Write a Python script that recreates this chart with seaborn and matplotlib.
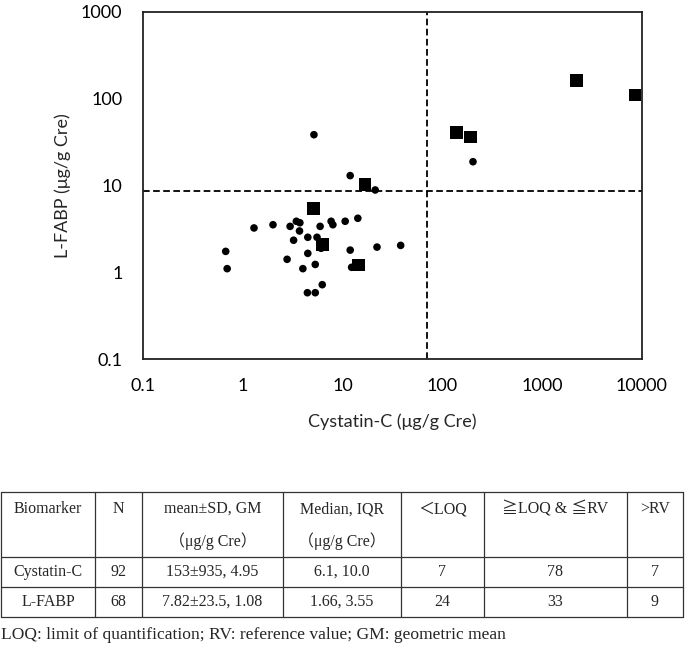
import numpy as np
import pandas as pd
import matplotlib
matplotlib.use("Agg")
import matplotlib.pyplot as plt
import seaborn as sns

# ---------------- data ----------------
circle_cystatin = [5.15, 203, 11.9, 21.2, 1.29, 2.0, 2.97, 3.43, 3.72, 3.69, 5.94, 7.66,
                   7.98, 10.6, 14.2, 3.22, 4.47, 5.53, 6.08, 0.671, 0.694, 2.77, 4.47,
                   3.99, 5.31, 11.9, 22.1, 38.2, 12.3, 6.24, 4.43, 5.31]
circle_lfabp = [38.5, 18.8, 13.0, 8.88, 3.24, 3.53, 3.38, 3.87, 3.72, 2.99, 3.38, 3.87,
                3.53, 3.87, 4.19, 2.34, 2.53, 2.53, 1.89, 1.74, 1.10, 1.41, 1.65,
                1.10, 1.23, 1.80, 1.95, 2.04, 1.14, 0.719, 0.581, 0.581]
square_cystatin = [2208, 8530, 139, 192, 16.8, 5.07, 6.28, 14.5]
square_lfabp = [163, 111, 41, 36.2, 10.3, 5.46, 2.08, 1.21]

cystatin_cutoff = 70.6
lfabp_cutoff = 8.7

x_ticks = [0.1, 1, 10, 100, 1000, 10000]
x_tick_labels = ["0.1", "1", "10", "100", "1000", "10000"]
y_ticks = [0.1, 1, 10, 100, 1000]
y_tick_labels = ["0.1", "1", "10", "100", "1000"]
x_label = "Cystatin-C (μg/g Cre)"
y_label = "L-FABP (μg/g Cre)"

table_header_1 = ["Biomarker", "N", "mean±SD, GM", "Median, IQR", "＜LOQ", "≧LOQ & ≦RV", ">RV"]
table_header_2 = ["", "", "（μg/g Cre）", "（μg/g Cre）", "", "", ""]
table_row_cystatin = ["Cystatin-C", "92", "153±935, 4.95", "6.1, 10.0", "7", "78", "7"]
table_row_lfabp = ["L-FABP", "68", "7.82±23.5, 1.08", "1.66, 3.55", "24", "33", "9"]
footnote = "LOQ: limit of quantification; RV: reference value; GM: geometric mean"

# ---------------- style ----------------
sns.set_style("white")
plt.rcParams["font.family"] = ["Lato", "DejaVu Sans"]

W, H = 685, 647
fig = plt.figure(figsize=(W / 100, H / 100), dpi=100)

left, right, top, bottom = 143.3, 641.7, 12, 359
ax = fig.add_axes([left / W, 1 - bottom / H, (right - left) / W, (bottom - top) / H])

df_c = pd.DataFrame({"cys": circle_cystatin, "lfabp": circle_lfabp})
df_s = pd.DataFrame({"cys": square_cystatin, "lfabp": square_lfabp})

sns.scatterplot(data=df_c, x="cys", y="lfabp", marker="o", s=30, color="black",
                edgecolor="none", legend=False, ax=ax, zorder=3)
sns.scatterplot(data=df_s, x="cys", y="lfabp", marker="s", s=82, color="black",
                edgecolor="none", legend=False, ax=ax, zorder=3)

ax.set_xscale("log")
ax.set_yscale("log")
ax.set_xlim(x_ticks[0], x_ticks[-1])
ax.set_ylim(y_ticks[0], y_ticks[-1])

ax.axvline(cystatin_cutoff, color="black", lw=1.3, ls=(0, (3.7, 1.9)), zorder=2)
ax.axhline(lfabp_cutoff, color="black", lw=1.3, ls=(0, (3.7, 1.9)), zorder=2)

ax.xaxis.set_major_locator(matplotlib.ticker.FixedLocator(x_ticks))
ax.xaxis.set_major_formatter(matplotlib.ticker.FixedFormatter(x_tick_labels))
ax.yaxis.set_major_locator(matplotlib.ticker.FixedLocator(y_ticks))
ax.yaxis.set_major_formatter(matplotlib.ticker.FixedFormatter(y_tick_labels))
ax.xaxis.set_minor_locator(matplotlib.ticker.NullLocator())
ax.yaxis.set_minor_locator(matplotlib.ticker.NullLocator())
ax.tick_params(axis="both", length=0, labelsize=13, colors="black")
ax.tick_params(axis="x", pad=14)
ax.tick_params(axis="y", pad=15)

for sp in ax.spines.values():
    sp.set_color("#222222")
    sp.set_linewidth(1.3)

ax.set_xlabel(x_label, fontsize=13, labelpad=14)
ax.set_ylabel(y_label, fontsize=13, labelpad=7)

# ---------------- table ----------------
tax = fig.add_axes([0, 0, 1, 1])
tax.set_xlim(0, W)
tax.set_ylim(H, 0)
tax.set_facecolor("none")
tax.axis("off")

col_edges = [1, 95, 142, 283, 401, 484, 627, 683]
row_edges = [492, 557, 587, 617]
line_kw = dict(color="#333333", lw=0.9)
for y in row_edges:
    tax.plot([col_edges[0], col_edges[-1]], [y, y], **line_kw)
for x in col_edges:
    tax.plot([x, x], [row_edges[0], row_edges[-1]], **line_kw)

serif = ["Liberation Serif", "Noto Sans CJK JP"]
tfs = 11.5
centers = [(col_edges[i] + col_edges[i + 1]) / 2 for i in range(len(col_edges) - 1)]
for i, c in enumerate(centers):
    tax.text(c, 509, table_header_1[i], ha="center", va="center", fontsize=tfs, family=serif)
    if table_header_2[i]:
        tax.text(c, 541, table_header_2[i], ha="center", va="center", fontsize=tfs, family=serif)
    tax.text(c, 572, table_row_cystatin[i], ha="center", va="center", fontsize=tfs, family=serif)
    tax.text(c, 602, table_row_lfabp[i], ha="center", va="center", fontsize=tfs, family=serif)

tax.text(1, 635, footnote, ha="left", va="center", fontsize=12.6, family=serif)

fig.savefig("out.png", dpi=100)
